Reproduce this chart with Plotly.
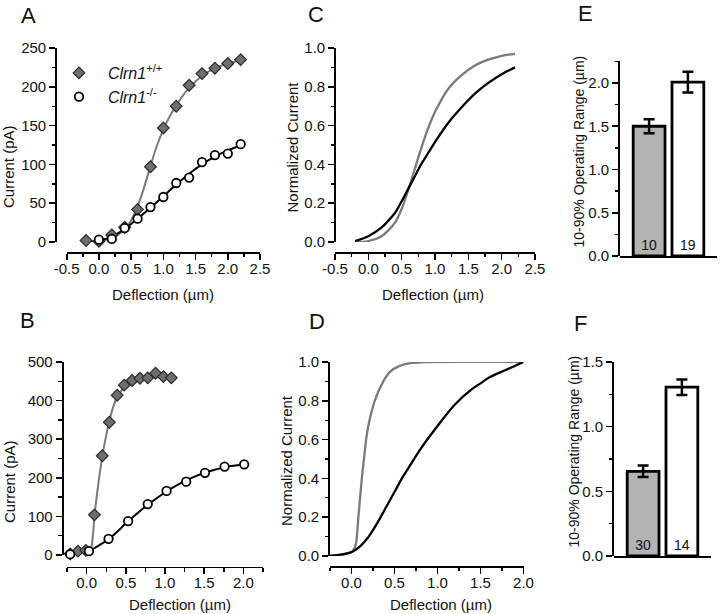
import plotly.graph_objects as go

# ---------------- data ----------------
# Panel A (current vs deflection)
a_x = [-0.2, 0.0, 0.2, 0.4, 0.6, 0.8, 1.0, 1.2, 1.4, 1.6, 1.8, 2.0, 2.2]
a_wt = [2, 1, 9, 19, 42, 97, 147, 175, 202, 217, 224, 230, 235]
a_ko = [-1, 3, 4, 18, 30, 45, 58, 76, 83, 103, 112, 114, 126]
a_fit_wt_x = [-0.2, 0.0, 0.2, 0.4, 0.5, 0.6, 0.7, 0.8, 0.9, 1.0, 1.1, 1.2, 1.4, 1.6, 1.8, 2.0, 2.2]
a_fit_wt_y = [0, 1, 5, 16, 28, 46, 70, 98, 124, 145, 162, 176, 199, 214, 224, 230, 234]
a_fit_ko_x = [-0.2, 0.0, 0.2, 0.4, 0.6, 0.8, 1.0, 1.2, 1.4, 1.6, 1.8, 2.0, 2.2]
a_fit_ko_y = [0, 2, 7, 17, 30, 44, 59, 74, 88, 100, 110, 118, 124]

# Panel B
b_wt_x = [-0.21, -0.11, -0.01, 0.1, 0.2, 0.29, 0.39, 0.48, 0.58, 0.68, 0.78, 0.88, 0.98, 1.08]
b_wt_y = [3, 10, 12, 104, 257, 344, 414, 440, 452, 458, 459, 471, 462, 459]
b_ko_x = [-0.21, 0.03, 0.28, 0.53, 0.78, 1.02, 1.27, 1.51, 1.76, 2.01]
b_ko_y = [2, 10, 42, 88, 132, 166, 190, 213, 229, 235]
b_fit_wt_x = [-0.2, 0.0, 0.05, 0.08, 0.1, 0.15, 0.2, 0.25, 0.3, 0.35, 0.4, 0.5, 0.6, 0.7, 0.8, 0.95, 1.1]
b_fit_wt_y = [3, 10, 15, 50, 100, 185, 255, 310, 355, 390, 413, 438, 451, 458, 461, 463, 463]
b_fit_ko_x = [0.0, 0.1, 0.2, 0.3, 0.4, 0.5, 0.6, 0.8, 1.0, 1.2, 1.4, 1.6, 1.8, 2.05]
b_fit_ko_y = [10, 18, 30, 44, 62, 82, 100, 133, 162, 186, 205, 219, 229, 236]

# Panel C (normalized)
c_x = [-0.2, 0.0, 0.2, 0.3, 0.4, 0.5, 0.6, 0.7, 0.8, 0.9, 1.0, 1.2, 1.4, 1.6, 1.8, 2.0, 2.2]
c_wt = [0.0, 0.005, 0.03, 0.06, 0.1, 0.17, 0.27, 0.38, 0.49, 0.59, 0.67, 0.79, 0.86, 0.91, 0.94, 0.96, 0.97]
c_ko = [0.005, 0.03, 0.075, 0.11, 0.15, 0.21, 0.275, 0.34, 0.405, 0.46, 0.515, 0.615, 0.695, 0.765, 0.82, 0.865, 0.9]

# Panel D (normalized)
d_wt_x = [-0.25, 0.0, 0.05, 0.08, 0.1, 0.12, 0.15, 0.17, 0.2, 0.27, 0.37, 0.45, 0.56, 0.7, 0.87, 2.0]
d_wt_y = [0.0, 0.02, 0.06, 0.2, 0.3, 0.4, 0.52, 0.6, 0.68, 0.8, 0.9, 0.95, 0.98, 0.995, 1.0, 1.0]
d_ko_x = [-0.25, 0.0, 0.1, 0.2, 0.3, 0.4, 0.5, 0.6, 0.7, 0.8, 1.0, 1.2, 1.4, 1.5, 1.6, 1.8, 2.0]
d_ko_y = [0.0, 0.02, 0.05, 0.1, 0.17, 0.25, 0.33, 0.41, 0.48, 0.55, 0.67, 0.78, 0.86, 0.89, 0.92, 0.96, 1.0]

# Panels E, F (bars)
groups = ["Clrn1+/+", "Clrn1-/-"]
e_vals = [1.50, 2.01]
e_err = [0.08, 0.12]
e_n = ["10", "19"]
f_vals = [0.655, 1.305]
f_err = [0.045, 0.06]
f_n = ["30", "14"]

# tick labels (hyphen minus as in the original)
ac_ticks = [-0.5, 0.0, 0.5, 1.0, 1.5, 2.0, 2.5]
ac_ticktext = ["-0.5", "0.0", "0.5", "1.0", "1.5", "2.0", "2.5"]

# ---------------- styling ----------------
W, H = 720, 614
FONT = "Liberation Sans, Arial, sans-serif"
GRAY_LINE = "#7a7a7a"
DIAMOND_FILL = "#6e6e6e"
BAR_GRAY = "#b3b3b3"
TXT = "#111111"
NB = "\u00a0\u00a0"


def px(x):
    return x / W


def py(y):
    return 1 - y / H


fig = go.Figure()

diamond = dict(symbol="diamond", size=9, color=DIAMOND_FILL, line=dict(color="#2a2a2a", width=1.2))
circle = dict(symbol="circle", size=8.5, color="white", line=dict(color="black", width=1.8))

# Panel A
fig.add_trace(go.Scatter(x=a_fit_wt_x, y=a_fit_wt_y, mode="lines", line=dict(color=GRAY_LINE, width=2, shape="spline"),
                         xaxis="x", yaxis="y", showlegend=False, cliponaxis=False))
fig.add_trace(go.Scatter(x=a_fit_ko_x, y=a_fit_ko_y, mode="lines", line=dict(color="black", width=2, shape="spline"),
                         xaxis="x", yaxis="y", showlegend=False, cliponaxis=False))
fig.add_trace(go.Scatter(x=a_x, y=a_wt, mode="markers", marker=diamond, xaxis="x", yaxis="y",
                         name=NB + "<i>Clrn1</i><sup>+/+</sup>", cliponaxis=False))
fig.add_trace(go.Scatter(x=a_x, y=a_ko, mode="markers", marker=circle, xaxis="x", yaxis="y",
                         name=NB + "<i>Clrn1</i><sup>-/-</sup>", cliponaxis=False))

# Panel B
fig.add_trace(go.Scatter(x=b_fit_wt_x, y=b_fit_wt_y, mode="lines", line=dict(color=GRAY_LINE, width=2, shape="spline"),
                         xaxis="x2", yaxis="y2", showlegend=False, cliponaxis=False))
fig.add_trace(go.Scatter(x=b_fit_ko_x, y=b_fit_ko_y, mode="lines", line=dict(color="black", width=2, shape="spline"),
                         xaxis="x2", yaxis="y2", showlegend=False, cliponaxis=False))
fig.add_trace(go.Scatter(x=b_wt_x, y=b_wt_y, mode="markers", marker=diamond, xaxis="x2", yaxis="y2",
                         showlegend=False, cliponaxis=False))
fig.add_trace(go.Scatter(x=b_ko_x, y=b_ko_y, mode="markers", marker=circle, xaxis="x2", yaxis="y2",
                         showlegend=False, cliponaxis=False))

# Panel C
fig.add_trace(go.Scatter(x=c_x, y=c_wt, mode="lines", line=dict(color=GRAY_LINE, width=2.3, shape="spline"),
                         xaxis="x3", yaxis="y3", showlegend=False, cliponaxis=False))
fig.add_trace(go.Scatter(x=c_x, y=c_ko, mode="lines", line=dict(color="black", width=2.3, shape="spline"),
                         xaxis="x3", yaxis="y3", showlegend=False, cliponaxis=False))

# Panel D
fig.add_trace(go.Scatter(x=d_wt_x, y=d_wt_y, mode="lines", line=dict(color=GRAY_LINE, width=2.3, shape="spline", smoothing=0.6),
                         xaxis="x4", yaxis="y4", showlegend=False, cliponaxis=False))
fig.add_trace(go.Scatter(x=d_ko_x, y=d_ko_y, mode="lines", line=dict(color="black", width=2.3, shape="spline"),
                         xaxis="x4", yaxis="y4", showlegend=False, cliponaxis=False))

# Panels E, F
for vals, errs, ns, xa, ya in [(e_vals, e_err, e_n, "x5", "y5"), (f_vals, f_err, f_n, "x6", "y6")]:
    fig.add_trace(go.Bar(x=groups, y=vals, xaxis=xa, yaxis=ya, width=0.82,
                         marker=dict(color=[BAR_GRAY, "white"], line=dict(color="black", width=2.8)),
                         error_y=dict(type="data", array=errs, visible=True, color="black", thickness=2.5, width=5.5),
                         text=ns, textposition="inside", insidetextanchor="start",
                         textfont=dict(family=FONT, size=14, color=TXT), showlegend=False, cliponaxis=False))

# ---------------- axes ----------------
# Each panel's axes are anchored to tiny invisible helper axes so that the
# x axis line can sit detached below y=0 and the y axis line left of the x range
TICK = dict(ticks="outside", ticklen=6, tickwidth=1.6, tickcolor="black")
MINOR = dict(ticks="outside", ticklen=3.5, tickwidth=1.4, tickcolor="black")

panels = [
    # (xdom px, xrange, x-axis line y px, x dtick, x minor, ydom px, yrange, y-axis line x px, y dtick, y minor, yfmt, category)
    ((66.7, 260), [-0.5, 2.5], 252, 0.5, 0.25, (48, 242), [0, 250], 57, 50, 25, "d", False),
    ((67, 263), [-0.25, 2.25], 566.5, 0.5, 0.25, (362, 555), [0, 500], 63.5, 100, 50, "d", False),
    ((335, 535), [-0.5, 2.5], 252, 0.5, 0.25, (48, 242), [0, 1], 336, 0.2, 0.1, ".1f", False),
    ((330, 523.5), [-0.25, 2.0], 566, 0.5, 0.25, (362, 556), [0, 1], 330, 0.2, 0.1, ".1f", False),
    ((620, 717), [-0.75, 1.75], 256, None, None, (61.4, 256), [0, 2.25], 620, 0.5, 0.25, ".1f", True),
    ((614, 711), [-0.75, 1.75], 556, None, None, (362, 556), [0, 1.5], 614, 0.5, 0.25, ".1f", True),
]

layout_axes = {}
for i, (xdom, xr, xpos, xdt, xmi, ydom, yr, ypos, ydt, ymi, yfmt, cat) in enumerate(panels, start=1):
    sx = "" if i == 1 else str(i)
    hx, hy = str(i + 6), str(i + 6)
    xa = dict(domain=[px(xdom[0]), px(xdom[1])], range=xr, anchor="y" + hy, side="bottom",
              showline=True, linecolor="black", linewidth=1.8, showgrid=False, zeroline=False,
              tickfont=dict(family=FONT, size=15, color=TXT), fixedrange=True, automargin=False)
    if cat:
        xa.update(type="category", ticks="", showticklabels=False)
    else:
        xa.update(TICK)
        xa["ticklabelstandoff"] = -4
        xa["minor"] = dict(dtick=xmi, tick0=0, **MINOR)
        if xr[0] == -0.5:
            xa.update(tickmode="array", tickvals=ac_ticks, ticktext=ac_ticktext)
        else:
            xa.update(dtick=xdt, tick0=0, tickformat=".1f")
    ya = dict(domain=[py(ydom[1]), py(ydom[0])], range=yr, anchor="x" + hx, side="left",
              showline=True, linecolor="black", linewidth=1.8, showgrid=False, zeroline=False,
              dtick=ydt, tick0=0, tickformat=yfmt, minor=dict(dtick=ymi, tick0=0, **MINOR),
              tickfont=dict(family=FONT, size=15, color=TXT), fixedrange=True, automargin=False, **TICK)
    layout_axes["xaxis" + sx] = xa
    layout_axes["yaxis" + sx] = ya
    # helper axes (invisible): their domain edges position the visible axis lines
    layout_axes["yaxis" + hy] = dict(domain=[py(xpos), py(xpos) + 0.005], visible=False, range=[0, 1],
                                     anchor="x" + sx if sx else "x", fixedrange=True)
    layout_axes["xaxis" + hx] = dict(domain=[px(ypos), px(ypos) + 0.005], visible=False, range=[0, 1],
                                     anchor="y" + sx if sx else "y", fixedrange=True)
    # empty traces that create the helper subplots
    fig.add_trace(go.Scatter(x=[None], y=[None], xaxis="x" + sx, yaxis="y" + hy, showlegend=False,
                             hoverinfo="skip", mode="markers"))
    fig.add_trace(go.Scatter(x=[None], y=[None], xaxis="x" + hx, yaxis="y" + sx, showlegend=False,
                             hoverinfo="skip", mode="markers"))

# ---------------- annotations ----------------
ann = []


def text(x, y, s, size=15, angle=0, xanchor="center"):
    ann.append(dict(x=px(x), y=py(y), xref="paper", yref="paper", text=s, showarrow=False,
                    textangle=angle, xanchor=xanchor, yanchor="middle",
                    font=dict(family=FONT, size=size, color=TXT)))


# panel letters
for lx, ly, s in [(28.5, 15, "A"), (27, 320, "B"), (315.5, 14, "C"), (316.5, 321, "D"), (585.5, 13, "E"), (580.5, 323, "F")]:
    text(lx, ly, s, size=22)

# x titles
text(162.5, 294, "Deflection (µm)")
text(432.5, 294, "Deflection (µm)")
text(180, 604, "Deflection (µm)")
text(441, 604, "Deflection (µm)")
# y titles
text(8, 167, "Current (pA)", angle=-90)
text(9, 482, "Current (pA)", angle=-90)
text(292, 147.5, "Normalized Current", angle=-90)
text(286, 461, "Normalized Current", angle=-90)
text(578.5, 152, "10-90% Operating Range (µm)", angle=-90, size=14)
text(573.5, 452, "10-90% Operating Range (µm)", angle=-90, size=14)

fig.update_layout(
    width=W, height=H, margin=dict(l=0, r=0, t=0, b=0, pad=0, autoexpand=False),
    paper_bgcolor="white", plot_bgcolor="rgba(0,0,0,0)",
    font=dict(family=FONT, size=15, color=TXT),
    showlegend=True,
    legend=dict(x=px(59), y=py(56), xanchor="left", yanchor="top", bgcolor="rgba(0,0,0,0)",
                font=dict(family=FONT, size=16, color=TXT), tracegroupgap=0, itemwidth=30),
    annotations=ann,
    bargap=0.2,
    hovermode=False,
    **layout_axes,
)

fig.write_html("out.html", config={"displayModeBar": False, "staticPlot": True},
               post_script="document.body.style.margin='0';document.body.style.padding='0';document.body.style.overflow='hidden';")
